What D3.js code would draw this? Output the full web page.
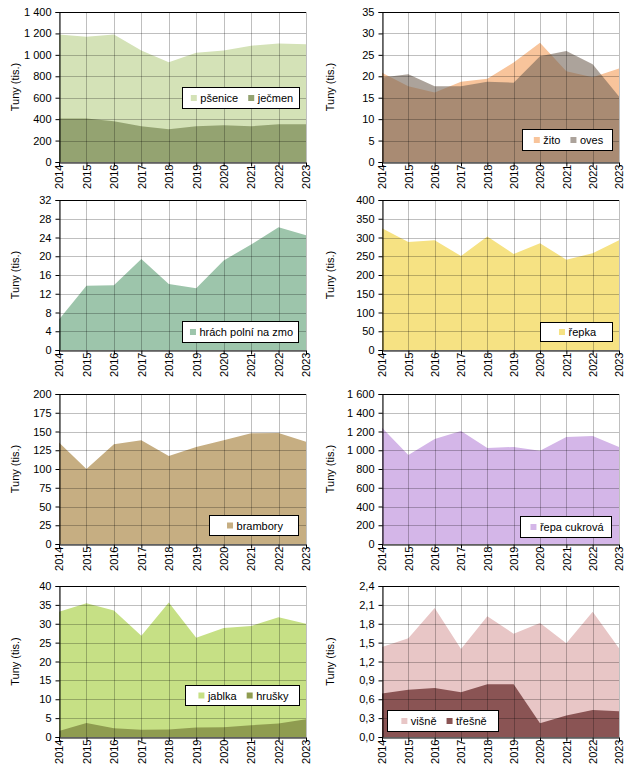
<!DOCTYPE html>
<html><head><meta charset="utf-8">
<script src="https://cdn.jsdelivr.net/npm/d3@7"></script>
<style>
html,body{margin:0;padding:0;background:#fff;}
svg text{font-family:Arial,"Liberation Sans",sans-serif;font-size:11px;fill:#000;}
</style></head>
<body><svg id="c" width="629" height="769"></svg>
<script>
// ---- data ----
const years = ["2014","2015","2016","2017","2018","2019","2020","2021","2022","2023"];
const psenice  = [1190,1170,1190,1040,930,1020,1040,1085,1105,1100];
const jecmen   = [405,405,380,333,305,333,342,333,352,352];
const zito     = [20.8,17.7,16.2,18.7,19.4,23.2,27.8,21.2,19.8,21.8];
const oves     = [19.7,20.5,17.7,17.7,18.7,18.5,24.7,25.9,22.8,15.3];
const hrach    = [6.5,13.7,13.8,19.4,14.1,13.2,19.1,22.5,26.2,24.5];
const repka    = [325,288,293,251,303,256,285,241,258,293];
const brambory = [135.5,100,133,138.5,117.5,129.3,138.5,147.6,148,136.4];
const repaCukrova = [1241,949,1120,1205,1024,1035,996,1141,1152,1035];
const jablka   = [33.2,35.4,33.5,26.8,35.6,26.3,28.9,29.4,31.7,30.0];
const hrusky   = [1.6,3.7,2.3,1.9,2.0,2.5,2.6,3.1,3.6,4.7];
const visne    = [1.43,1.57,2.05,1.40,1.92,1.64,1.81,1.49,1.99,1.41];
const tresne   = [0.69,0.75,0.78,0.71,0.84,0.84,0.22,0.34,0.43,0.41];

const ticks1 = [0,200,400,600,800,1000,1200,1400];
const ticks2 = [0,5,10,15,20,25,30,35];
const ticks3 = [0,4,8,12,16,20,24,28,32];
const ticks4 = [0,50,100,150,200,250,300,350,400];
const ticks5 = [0,25,50,75,100,125,150,175,200];
const ticks6 = [0,200,400,600,800,1000,1200,1400,1600];
const ticks7 = [0,5,10,15,20,25,30,35,40];
const ticks8 = [0,0.3,0.6,0.9,1.2,1.5,1.8,2.1,2.4];

const yLabel = "Tuny (tis.)";

// ---- layout / styles ----
const loc = d3.formatLocale({decimal:",", thousands:"\u00a0", grouping:[3], currency:["",""]});
const fInt = loc.format(",d"), fDec = loc.format(",.1f");
const L = {x0:59, x1:306}, R = {x0:382, x1:619};
const rows = [[12,162],[200,350],[394,544],[586,737]];

const panels = [
 {col:L,row:0,ticks:ticks1,fmt:fInt,series:[{name:"pšenice",v:psenice,c:"#d4e2b7",o:1},{name:"ječmen",v:jecmen,c:"#94a371",o:1}],lg:[182,87,117,21]},
 {col:R,row:0,ticks:ticks2,fmt:fInt,series:[{name:"žito",v:zito,c:"#f8c49b",o:1},{name:"oves",v:oves,c:"#756658",o:0.6}],lg:[522,129,90,21]},
 {col:L,row:1,ticks:ticks3,fmt:fInt,series:[{name:"hrách polní na zmo",v:hrach,c:"#9dc5ab",o:1}],lg:[182,321,116,21]},
 {col:R,row:1,ticks:ticks4,fmt:fInt,series:[{name:"řepka",v:repka,c:"#f6e283",o:1}],lg:[540,322,72,19]},
 {col:L,row:2,ticks:ticks5,fmt:fInt,series:[{name:"brambory",v:brambory,c:"#c6ae82",o:1}],lg:[209,515,89,20]},
 {col:R,row:2,ticks:ticks6,fmt:fInt,series:[{name:"řepa cukrová",v:repaCukrova,c:"#d4b6e8",o:1}],lg:[520,516,91,21]},
 {col:L,row:3,ticks:ticks7,fmt:fInt,series:[{name:"jablka",v:jablka,c:"#c6e085",o:1},{name:"hrušky",v:hrusky,c:"#8f9c50",o:1}],lg:[185,685,114,20]},
 {col:R,row:3,ticks:ticks8,fmt:fDec,series:[{name:"višně",v:visne,c:"#e8c6c6",o:1},{name:"třešně",v:tresne,c:"#8a5454",o:1}],lg:[387,710,111,21]}
];

const svg = d3.select("#c");

panels.forEach(p => {
  const x0 = p.col.x0, x1 = p.col.x1;
  const [yt, yb] = rows[p.row];
  const g = svg.append("g");
  const x = d3.scalePoint().domain(years).range([x0, x1]).padding(0);
  const y = d3.scaleLinear().domain([0, p.ticks[p.ticks.length-1]]).range([yb, yt]);

  // areas
  p.series.forEach(s => {
    const area = d3.area().x((d,i) => x(years[i])).y0(y(0)).y1(d => y(d));
    g.append("path").datum(s.v).attr("d", area).attr("fill", s.c).attr("fill-opacity", s.o);
  });

  // gridlines on top (semi-transparent)
  const grid = g.append("g").attr("stroke","rgba(0,0,0,0.25)").attr("stroke-width",1).attr("shape-rendering","crispEdges");
  p.ticks.forEach(t => grid.append("line").attr("x1",x0).attr("x2",x1).attr("y1",Math.round(y(t))+0.5).attr("y2",Math.round(y(t))+0.5));
  years.forEach(yr => grid.append("line").attr("x1",Math.round(x(yr))+0.5).attr("x2",Math.round(x(yr))+0.5).attr("y1",yt).attr("y2",yb));

  // axes
  const ya = d3.axisLeft(y).tickValues(p.ticks).tickFormat(p.fmt).tickSize(4).tickPadding(4);
  const gy = g.append("g").attr("transform",`translate(${Math.round(x0)+0.5},0)`).call(ya);
  gy.select(".domain").attr("stroke","#000");
  gy.selectAll("text").style("font-size","11px").attr("fill","#000");
  const xa = d3.axisBottom(x).tickSize(4).tickPadding(0);
  const gx = g.append("g").attr("transform",`translate(0,${Math.round(yb)+0.5})`).call(xa);
  gx.select(".domain").attr("stroke","#000");
  gx.selectAll("text").attr("transform","rotate(-90)").attr("text-anchor","end")
    .attr("x",-2).attr("y",0).attr("dy","0.35em").style("font-size","11px").attr("fill","#000");
  // top border
  g.append("line").attr("x1",x0).attr("x2",x1).attr("y1",Math.round(yt)+0.5).attr("y2",Math.round(yt)+0.5).attr("stroke","#000");

  // y label
  const lx = p.col === L ? 15 : 330;
  g.append("text").attr("transform",`translate(${lx},${(yt+yb)/2}) rotate(-90)`).attr("text-anchor","middle")
   .attr("dy","0.35em").text(yLabel);

  // legend (items centred in the box)
  const [lgx, lgy, lgw, lgh] = p.lg;
  const lg = g.append("g");
  lg.append("rect").attr("x",lgx+0.5).attr("y",lgy+0.5).attr("width",lgw).attr("height",lgh).attr("fill","#fff").attr("stroke","#000");
  const items = p.series.map(s => {
    const rct = lg.append("rect").attr("width",6).attr("height",6).attr("fill",s.c).attr("fill-opacity",s.o);
    const t = lg.append("text").attr("y",lgy+lgh/2+1).attr("dy","0.35em").text(s.name);
    return {rct, t, w: 9.5 + t.node().getComputedTextLength()};
  });
  const total = d3.sum(items, d => d.w) + 10*(items.length-1);
  let cx = lgx + (lgw - total)/2 + 1.5;
  items.forEach(it => {
    it.rct.attr("x",cx).attr("y",lgy+lgh/2-2.5);
    it.t.attr("x",cx+9.5);
    cx += it.w + 10;
  });
});
</script></body></html>
